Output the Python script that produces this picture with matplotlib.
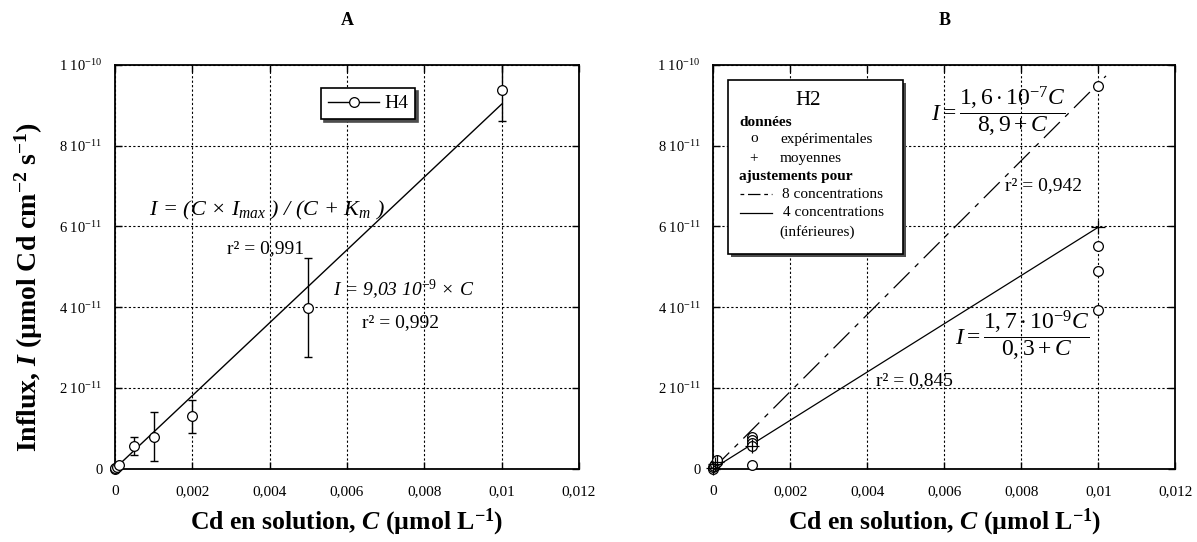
import matplotlib
matplotlib.use("Agg")
import matplotlib.pyplot as plt
from matplotlib.patches import Rectangle

# fonts: Times-like serif everywhere, including math text
plt.rcParams['font.family'] = ['Liberation Serif', 'DejaVu Serif']
plt.rcParams['mathtext.fontset'] = 'custom'
plt.rcParams['mathtext.rm'] = 'Liberation Serif'
plt.rcParams['mathtext.it'] = 'Liberation Serif:italic'
plt.rcParams['mathtext.bf'] = 'Liberation Serif:bold'
plt.rcParams['mathtext.bfit'] = 'Liberation Serif:italic:bold'

# ---- data ----
# panel A : H4, means with error bars
h4_c = [0, 0.00001, 0.00005, 0.0001, 0.0005, 0.001, 0.002, 0.005, 0.01]
h4_i = [0, 0.1e-12, 0.4e-12, 0.9e-12, 5.6e-12, 7.9e-12, 12.9e-12, 39.9e-12, 93.7e-12]
h4_err = [0, 0, 0.2e-12, 0.3e-12, 2.15e-12, 6.05e-12, 4.2e-12, 12.35e-12, 7.7e-12]
fit_a_c = [0, 0.01]
fit_a_i = [0, 9.03e-11]

# panel B : H2, individual values and means
h2_exp_c = [0, 0, 0.00001, 0.00005, 0.0001, 0.0001,
            0.001, 0.001, 0.001, 0.001, 0.001,
            0.01, 0.01, 0.01, 0.01]
h2_exp_i = [0, 0.3e-12, 0.5e-12, 1.0e-12, 1.5e-12, 2.0e-12,
            7.9e-12, 7.1e-12, 6.2e-12, 5.6e-12, 0.9e-12,
            94.9e-12, 55.1e-12, 48.9e-12, 39.4e-12]
h2_mean_c = [0, 0.00005, 0.0001, 0.001, 0.01]
h2_mean_i = [0.2e-12, 1.0e-12, 1.7e-12, 5.5e-12, 59.9e-12]
fit8_c = [0, 0.0102]
fit8_i = [0, 9.73e-11]
fit4_c = [0, 0.01]
fit4_i = [0, 5.98e-11]

x_ticks = [0, 0.002, 0.004, 0.006, 0.008, 0.01, 0.012]
x_ticklabels = ['0', '0,002', '0,004', '0,006', '0,008', '0,01', '0,012']
y_ticks = [0, 2e-11, 4e-11, 6e-11, 8e-11, 1e-10]
y_ticklabels = ['0', r'2 10$^{-11}$', r'4 10$^{-11}$', r'6 10$^{-11}$',
                r'8 10$^{-11}$', r'1 10$^{-10}$']

# ---- figure ----
W, H = 1197, 542
fig = plt.figure(figsize=(W / 100, H / 100), dpi=100)
axA = fig.add_axes([115 / W, 1 - 468.5 / H, 464 / W, 403.5 / H])
axB = fig.add_axes([713.3 / W, 1 - 468.5 / H, 462 / W, 403.5 / H])

xlab = r'Cd en solution, $\mathbfit{C}$ (µmol L$^{\mathbf{-1}}$)'

for ax, title in [(axA, 'A'), (axB, 'B')]:
    ax.set_xlim(0, 0.012)
    ax.set_ylim(0, 1e-10)
    ax.set_xticks(x_ticks)
    ax.set_xticklabels(x_ticklabels)
    ax.set_yticks(y_ticks)
    ax.set_yticklabels(y_ticklabels)
    ax.tick_params(direction='in', top=True, right=True, length=5,
                   width=1, labelsize=10.5, pad=9)
    ax.tick_params(axis='x', labelsize=11, pad=12)
    ax.grid(True, color='k', linestyle=(0, (2, 2)), linewidth=0.8)
    for s in ax.spines.values():
        s.set_linewidth(1.3)
    ax.text(0.5, 1.111, title, transform=ax.transAxes, ha='center',
            va='center', fontsize=13, fontweight='bold')
    ax.set_xlabel(xlab, fontsize=18.5, fontweight='bold')
    ax.xaxis.set_label_coords(0.5, -0.095)

# ---- panel A ----
axA.errorbar(h4_c, h4_i, yerr=h4_err, fmt='none', ecolor='k',
             elinewidth=1, capsize=3, capthick=1)
axA.plot(h4_c, h4_i, 'o', ms=7, mfc='white', mec='k', mew=0.9,
         clip_on=False, zorder=4)
axA.plot(fit_a_c, fit_a_i, 'k-', lw=1)
hA, = axA.plot([], [], 'k-o', ms=7, mfc='white', mew=0.9, lw=1)
leg = axA.legend([hA], ['H4'], loc='upper left',
                 bbox_to_anchor=(0.424, 0.967), fontsize=14,
                 fancybox=False, framealpha=1, edgecolor='k',
                 shadow={'color': '0.3', 'alpha': 1},
                 handlelength=2.6, borderpad=0.35, handletextpad=0.3)
leg.get_frame().set_linewidth(1.2)

axA.set_ylabel(r'Influx, $\mathbfit{I}$ (µmol Cd cm$^{\mathbf{-2}}$ s$^{\mathbf{-1}}$)',
               fontsize=20, fontweight='bold')
axA.yaxis.set_label_coords(-0.151, 0.45)

axA.text(0.073, 0.628, r'I = (C × I$_{max}$ ) / (C + K$_{m}$ )',
         transform=axA.transAxes, fontsize=16, ha='left', va='baseline',
         style='italic')
axA.text(0.241, 0.534, 'r² = 0,991', transform=axA.transAxes,
         fontsize=14, ha='left', va='baseline')
axA.text(0.469, 0.426, r'I = 9,03 10$^{-9}$ × C',
         transform=axA.transAxes, fontsize=14, ha='left', va='baseline',
         style='italic')
axA.text(0.532, 0.351, 'r² = 0,992', transform=axA.transAxes,
         fontsize=14, ha='left', va='baseline')

# ---- panel B ----
axB.plot(fit8_c, fit8_i, color='k', lw=0.9, linestyle=(0, (18, 6, 4, 6)))
axB.plot(fit4_c, fit4_i, 'k-', lw=0.9)
axB.plot(h2_exp_c, h2_exp_i, 'o', ms=7, mfc='white', mec='k', mew=0.9,
         clip_on=False, zorder=4)
axB.plot(h2_mean_c, h2_mean_i, '+', ms=10, mec='k', mew=0.9,
         clip_on=False, zorder=4)

axB.text(0.4706, 0.886, r'$I=\dfrac{1,6\cdot 10^{-7}C}{8,9+C}$',
         transform=axB.transAxes, fontsize=17, ha='left', va='center')
axB.text(0.631, 0.690, 'r² = 0,942', transform=axB.transAxes,
         fontsize=14, ha='left', va='baseline')
axB.text(0.523, 0.330, r'$I=\dfrac{1,7\cdot 10^{-9}C}{0,3+C}$',
         transform=axB.transAxes, fontsize=17, ha='left', va='center')
axB.text(0.352, 0.207, 'r² = 0,845', transform=axB.transAxes,
         fontsize=14, ha='left', va='baseline')

# custom legend box of panel B
bx0, bx1, by0, by1 = 0.0318, 0.4106, 0.532, 0.963
axB.add_patch(Rectangle((bx0 + 0.0065, by0 - 0.0074), bx1 - bx0, by1 - by0,
                        transform=axB.transAxes, facecolor='0.3',
                        edgecolor='none', zorder=5))
axB.add_patch(Rectangle((bx0, by0), bx1 - bx0, by1 - by0,
                        transform=axB.transAxes, facecolor='white',
                        edgecolor='k', linewidth=1.2, zorder=5))
lt = dict(transform=axB.transAxes, fontsize=11, va='center', zorder=6)
axB.text(0.2045, 0.913, 'H2', ha='center', **{**lt, 'fontsize': 15})
axB.text(0.0563, 0.858, 'données', ha='left', fontweight='bold', **lt)
axB.text(0.088, 0.818, 'o', ha='center', **lt)
axB.text(0.1444, 0.816, 'expérimentales', ha='left', **lt)
axB.text(0.088, 0.769, '+', ha='center', **lt)
axB.text(0.1444, 0.769, 'moyennes', ha='left', **lt)
axB.text(0.0563, 0.723, 'ajustements pour', ha='left', fontweight='bold', **lt)
axB.plot([0.0578, 0.1264], [0.680, 0.680], transform=axB.transAxes,
         color='k', lw=0.9, linestyle=(0, (3, 3, 10, 3, 3)), zorder=6)
axB.text(0.148, 0.680, '8 concentrations', ha='left', **lt)
axB.plot([0.0578, 0.1264], [0.634, 0.634], transform=axB.transAxes,
         color='k', lw=0.9, zorder=6)
axB.text(0.150, 0.634, '4 concentrations', ha='left', **lt)
axB.text(0.143, 0.587, '(inférieures)', ha='left', **lt)

fig.savefig('out.png', dpi=100)
